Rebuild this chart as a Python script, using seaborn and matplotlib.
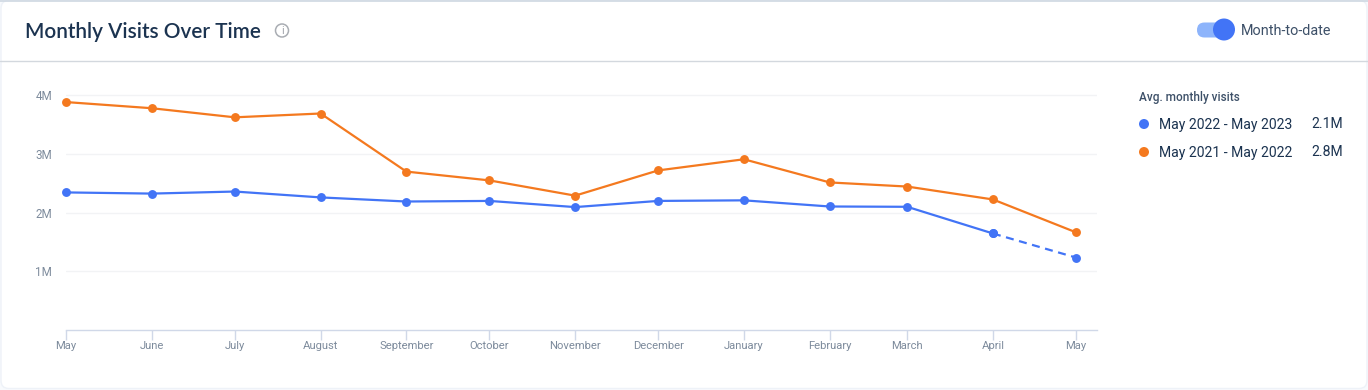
import matplotlib
matplotlib.use("Agg")
import matplotlib.pyplot as plt
from matplotlib.patches import Circle, FancyBboxPatch
import seaborn as sns
import pandas as pd

sns.set_theme(style="white")

# Data
dates = ["2022-05-01", "2022-06-01", "2022-07-01", "2022-08-01", "2022-09-01",
         "2022-10-01", "2022-11-01", "2022-12-01", "2023-01-01", "2023-02-01",
         "2023-03-01", "2023-04-01", "2023-05-01"]
months = ["May", "June", "July", "August", "September", "October", "November",
          "December", "January", "February", "March", "April", "May"]
visits_current = [2.345, 2.325, 2.36, 2.26, 2.19, 2.2, 2.095, 2.2, 2.21,
                  2.105, 2.1, 1.645, 1.235]
visits_previous = [3.885, 3.78, 3.625, 3.69, 2.7, 2.55, 2.29, 2.72, 2.91,
                   2.515, 2.445, 2.225, 1.665]
y_ticks = [1, 2, 3, 4]
y_labels = ["1M", "2M", "3M", "4M"]
legend_title = "Avg. monthly visits"
legend_names = ["May 2022 - May 2023", "May 2021 - May 2022"]
legend_values = ["2.1M", "2.8M"]

BLUE = "#4274f6"
ORANGE = "#f4791f"
NAVY = "#1b3350"
GREY = "#7d8b9c"
AXIS = "#d0d8e8"

df = pd.DataFrame({"date": pd.to_datetime(dates),
                   "current": visits_current,
                   "previous": visits_previous})

W, H = 1368, 390
fig = plt.figure(figsize=(W / 100, H / 100), dpi=100, facecolor="#f8fafd")

# card chrome, drawn in pixel coordinates
bg = fig.add_axes([0, 0, 1, 1], zorder=0)
bg.set_xlim(0, W)
bg.set_ylim(H, 0)
bg.axis("off")
bg.add_patch(FancyBboxPatch((1, 0.5), W - 2, H - 2, boxstyle="round,pad=0,rounding_size=8",
                            fc="white", ec="#eef2f8", lw=1))
bg.plot([0, W], [0.5, 0.5], color="#cfd8e2", lw=1.2)
bg.plot([0, W], [61, 61], color="#d3d8de", lw=1)
bg.text(25, 31.5, "Monthly Visits Over Time", family="Lato", fontsize=14.95,
        color=NAVY, va="center", ha="left", fontweight="semibold")
bg.add_patch(Circle((282, 30.5), 6.5, fc="white", ec="#a9adb3", lw=1.1))
bg.text(282, 30.7, "i", family="DejaVu Sans", fontsize=7, color="#9a9ea5", ha="center", va="center")

# toggle
bg.add_patch(FancyBboxPatch((1197, 22.5), 28, 15, boxstyle="round,pad=0,rounding_size=7.5",
                            fc="#8db4fb", ec="none"))
bg.add_patch(Circle((1224, 29.5), 11, fc=BLUE, ec="none"))
bg.text(1241, 31, "Month-to-date", family="Roboto", fontsize=10.4, color="#3d5068",
        va="center", ha="left")

# legend
bg.text(1139, 97, legend_title, family="Roboto", fontsize=8.5, color="#3d5068",
        va="center", ha="left", fontweight="medium")
for y, color, name, val in zip([124, 152], [BLUE, ORANGE], legend_names, legend_values):
    bg.add_patch(Circle((1144, y), 5, fc=color, ec="none"))
    bg.text(1159, y + 0.5, name, family="Roboto", fontsize=10.1, color=NAVY, va="center", ha="left")
    bg.text(1343, y + 0.5, val, family="Roboto", fontsize=10.1, color=NAVY, va="center", ha="right")

# plot area
ax = fig.add_axes([66 / W, 1 - 330 / H, (1097 - 66) / W, (330 - 70) / H], zorder=1)
ax.patch.set_alpha(0)

line_kw = dict(linewidth=1.6, marker="o", markersize=6.4, markeredgewidth=0, legend=False, clip_on=False)
sns.lineplot(data=df, x="date", y="previous", color=ORANGE, ax=ax, zorder=3, **line_kw)
sns.lineplot(data=df.iloc[:-1], x="date", y="current", color=BLUE, ax=ax, zorder=4, **line_kw)
sns.lineplot(data=df.iloc[-2:], x="date", y="current", color=BLUE, ax=ax, zorder=4,
             linestyle=(0, (3.6, 2.5)), **line_kw)

ax.set_xlim(df["date"].iloc[0], df["date"].iloc[-1] + pd.Timedelta(days=7.6))
ax.set_ylim(0, 260 / 58.67)
ax.set_yticks(y_ticks)
ax.set_yticklabels(y_labels, family="Roboto", fontsize=8.4, color=GREY)
ax.set_xticks(df["date"])
ax.set_xticklabels(months, family="Roboto", fontsize=8.1, color=GREY)
ax.set_xlabel("")
ax.set_ylabel("")
ax.grid(axis="y", color="#f2f3f5", lw=1)
ax.set_axisbelow(True)
ax.tick_params(axis="x", length=7, width=1, color=AXIS, pad=1, bottom=True)
ax.tick_params(axis="y", length=0, pad=10)
for s in ["top", "right", "left"]:
    ax.spines[s].set_visible(False)
ax.spines["bottom"].set_color(AXIS)
ax.spines["bottom"].set_linewidth(1)

fig.savefig("out.png", dpi=100)
